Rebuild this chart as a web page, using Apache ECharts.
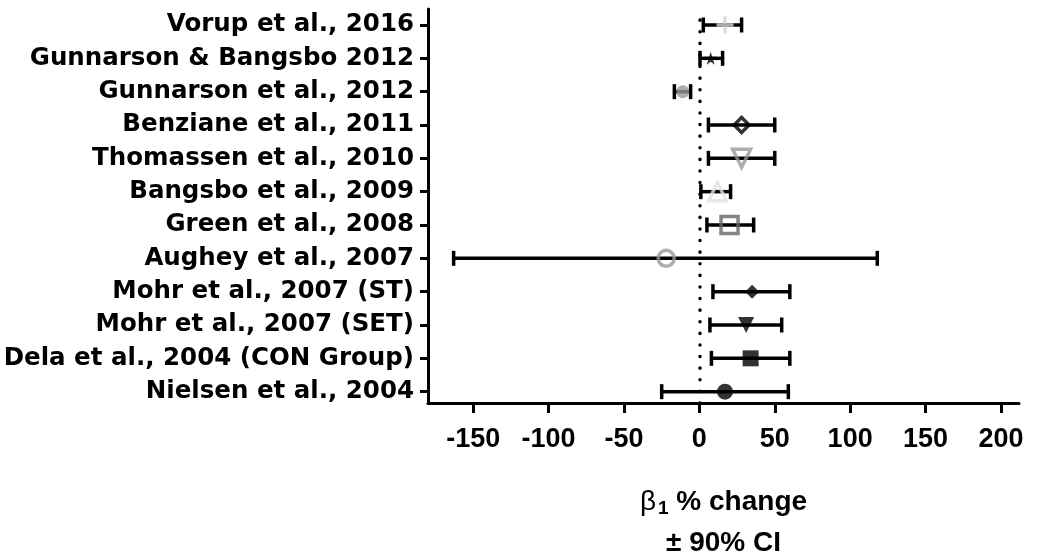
<!DOCTYPE html>
<html>
<head>
<meta charset="utf-8">
<title>Beta-1 percent change</title>
<script src="https://cdn.jsdelivr.net/npm/echarts@6/dist/echarts.min.js"></script>
<style>
  html, body { margin: 0; padding: 0; background: #fff; }
  #chart { width: 1038px; height: 560px; }
</style>
</head>
<body>
<div id="chart"></div>
<script>
// Studies, listed from top to bottom
const studies = [
  'Vorup et al., 2016',
  'Gunnarson & Bangsbo 2012',
  'Gunnarson et al., 2012',
  'Benziane et al., 2011',
  'Thomassen et al., 2010',
  'Bangsbo et al., 2009',
  'Green et al., 2008',
  'Aughey et al., 2007',
  'Mohr et al., 2007 (ST)',
  'Mohr et al., 2007 (SET)',
  'Dela et al., 2004 (CON Group)',
  'Nielsen et al., 2004'
];
// Point estimate and 90% CI bounds (% change)
const estimate = [17, 7.5, -11, 28, 28, 12, 20, -22, 35, 31, 34, 17];
const ciLow    = [2.6, 0.4, -16.6, 6, 6, 1, 5, -163, 9, 7, 8, -25];
const ciHigh   = [28, 15.4, -5.8, 50, 50, 20.7, 36, 118, 60, 54.6, 60, 59];
const xTicks   = [-150, -100, -50, 0, 50, 100, 150, 200];

// Marker look for each study
const plusPath = 'path://M5.5,0H8.5V5.5H14V8.5H8.5V14H5.5V8.5H0V5.5H5.5Z';
const starPath = 'path://M50,0L61,35L98,35L68,57L79,91L50,70L21,91L32,57L2,35L39,35Z';
const clear = 'rgba(0,0,0,0)';
const markers = [
  { symbol: plusPath, size: 17, rotate: 0, fill: '#d4d4d4', stroke: null },
  { symbol: starPath, size: 13, rotate: 0, fill: '#000', stroke: null },
  { symbol: 'circle', size: 13, rotate: 0, fill: '#999', stroke: null },
  { symbol: 'diamond', size: 15, rotate: 0, fill: clear, stroke: '#000' },
  { symbol: 'triangle', size: 18, rotate: 180, fill: clear, stroke: '#999' },
  { symbol: 'triangle', size: 18, rotate: 0, fill: clear, stroke: '#e2e2e2' },
  { symbol: 'rect', size: 17, rotate: 0, fill: clear, stroke: '#666' },
  { symbol: 'circle', size: 16, rotate: 0, fill: clear, stroke: '#999' },
  { symbol: 'diamond', size: 14, rotate: 0, fill: '#000', stroke: null },
  { symbol: 'triangle', size: 16, rotate: 180, fill: '#000', stroke: null },
  { symbol: 'rect', size: 16, rotate: 0, fill: '#000', stroke: null },
  { symbol: 'circle', size: 16, rotate: 0, fill: '#000', stroke: null }
];

const n = studies.length;
const rowPos = studies.map((_, i) => n - i);   // top row sits highest
const font = '"Liberation Sans", Arial, Helvetica, sans-serif';
const labelFont = '"DejaVu Sans", Verdana, sans-serif';

const ciData = studies.map((_, i) => [ciLow[i], ciHigh[i], rowPos[i]]);
const pointData = studies.map((_, i) => {
  const m = markers[i];
  return {
    value: [estimate[i], rowPos[i]],
    symbol: m.symbol,
    symbolSize: m.size,
    symbolRotate: m.rotate,
    itemStyle: m.stroke
      ? { color: m.fill, borderColor: m.stroke, borderWidth: 3.5 }
      : { color: m.fill, borderWidth: 0 }
  };
});

const chart = echarts.init(document.getElementById('chart'), null, { renderer: 'canvas' });

chart.setOption({
  animation: false,
  backgroundColor: '#fff',
  grid: { left: 428, right: 19, top: 9, bottom: 157, containLabel: false, outerBoundsMode: 'none' },
  xAxis: {
    type: 'value',
    min: -180,
    max: 212,
    splitLine: { show: false },
    axisLine: { show: true, onZero: false, lineStyle: { color: '#000', width: 3 } },
    axisTick: { show: true, length: 10, customValues: xTicks, lineStyle: { color: '#000', width: 3 } },
    axisLabel: {
      customValues: xTicks,
      margin: 23,
      color: '#000',
      fontFamily: font,
      fontWeight: 'bold',
      fontSize: 27
    },
    name: '{b|β}{s|1}{t| % change}\n{t|± 90% CI}',
    nameLocation: 'middle',
    nameGap: 79,
    nameTextStyle: {
      color: '#000',
      lineHeight: 41,
      rich: {
        b: { fontFamily: font, fontSize: 28, fontWeight: 'normal', color: '#000', lineHeight: 41 },
        s: { fontFamily: font, fontSize: 19, fontWeight: 'bold', color: '#000', padding: [12, 0, 0, 2], lineHeight: 41 },
        t: { fontFamily: font, fontSize: 28, fontWeight: 'bold', color: '#000', lineHeight: 41 }
      }
    }
  },
  yAxis: {
    type: 'value',
    min: 0.66,
    max: 12.48,
    splitLine: { show: false },
    axisLine: { show: true, onZero: false, lineStyle: { color: '#000', width: 3 } },
    axisTick: { show: true, length: 8, customValues: rowPos, lineStyle: { color: '#000', width: 3 } },
    axisLabel: {
      customValues: rowPos,
      margin: 14,
      color: '#000',
      fontFamily: labelFont,
      fontWeight: 'bold',
      fontSize: 24.5,
      formatter: v => studies[n - Math.round(v)]
    }
  },
  series: [
    {
      // horizontal CI bars with end caps
      type: 'custom',
      data: ciData,
      encode: { x: [0, 1], y: 2 },
      silent: true,
      z: 2,
      renderItem: (params, api) => {
        const y = api.value(2);
        const a = api.coord([api.value(0), y]);
        const b = api.coord([api.value(1), y]);
        const h = 7.5;
        const st = { stroke: '#000', lineWidth: 3.5 };
        return {
          type: 'group',
          children: [
            { type: 'line', shape: { x1: a[0], y1: a[1], x2: b[0], y2: b[1] }, style: st },
            { type: 'line', shape: { x1: a[0], y1: a[1] - h, x2: a[0], y2: a[1] + h }, style: st },
            { type: 'line', shape: { x1: b[0], y1: b[1] - h, x2: b[0], y2: b[1] + h }, style: st }
          ]
        };
      }
    },
    {
      type: 'scatter',
      data: pointData,
      z: 3,
      silent: true,
      markLine: {
        silent: true,
        symbol: 'none',
        label: { show: false },
        lineStyle: { color: '#000', width: 3.5, type: [0.1, 11.5], cap: 'round' },
        data: [{ xAxis: 0 }]
      }
    }
  ]
});
</script>
</body>
</html>
